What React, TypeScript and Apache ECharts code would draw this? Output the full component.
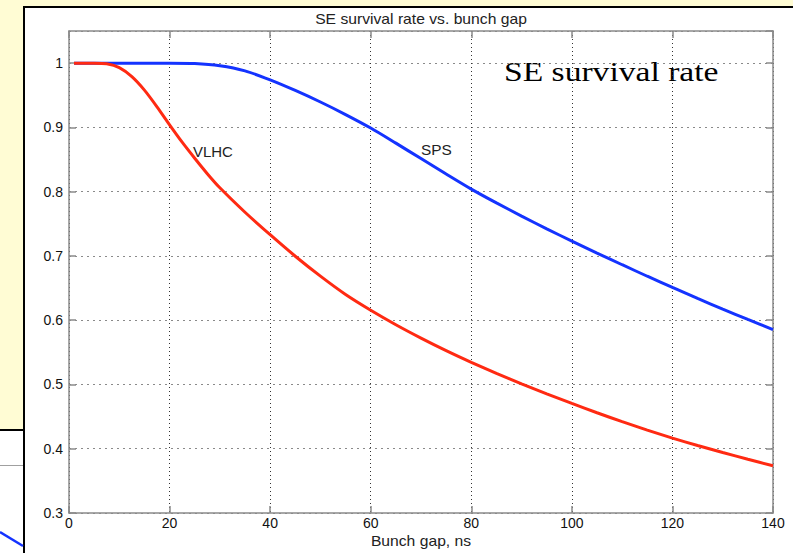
import React, { useEffect, useRef } from "react";
import * as echarts from "echarts";

// Tick values
const xTicks = [0, 20, 40, 60, 80, 100, 120, 140];
const yTicks = [0.3, 0.4, 0.5, 0.6, 0.7, 0.8, 0.9, 1];

// SPS (blue) curve
const spsX = [1, 5, 10, 15, 20, 25, 30, 35, 40, 45, 50, 55, 60, 65, 70, 75, 80, 85, 90, 95, 100, 105, 110, 115, 120, 125, 130, 135, 140];
const spsY = [1, 1, 1, 1, 1, 0.9995, 0.996, 0.988, 0.974, 0.9575, 0.9395, 0.92, 0.899, 0.8755, 0.8515, 0.8275, 0.804, 0.7825, 0.762, 0.7422, 0.723, 0.7044, 0.6863, 0.6684, 0.6509, 0.6339, 0.6173, 0.6012, 0.5855];

// VLHC (red) curve
const vlhcX = [1, 5, 7.5, 10, 12.5, 15, 17.5, 20, 22.5, 25, 27.5, 30, 35, 40, 45, 50, 55, 60, 65, 70, 75, 80, 85, 90, 95, 100, 105, 110, 115, 120, 125, 130, 135, 140];
const vlhcY = [1, 1, 0.999, 0.993, 0.979, 0.958, 0.932, 0.904, 0.877, 0.852, 0.828, 0.806, 0.768, 0.733, 0.6995, 0.6685, 0.64, 0.6155, 0.593, 0.5722, 0.5527, 0.5345, 0.5173, 0.501, 0.4855, 0.4705, 0.456, 0.4422, 0.429, 0.4165, 0.405, 0.3941, 0.3836, 0.3735];

const TITLE = "SE survival rate vs. bunch gap";
const X_NAME = "Bunch gap, ns";
const BIG_TEXT = "SE survival rate";

const SANS = "'Liberation Sans', Arial, Helvetica, sans-serif";
const SERIF = "'Liberation Serif', 'Times New Roman', serif";

export default function App() {
  const ref = useRef<HTMLDivElement>(null);
  useEffect(() => {
    if (!ref.current) return;
    const chart = echarts.init(ref.current, undefined, { renderer: "svg" });
    const axisGray = "#8a8a8a";
    const option: any = {
      animation: false,
      backgroundColor: "transparent",
      grid: { left: 69, right: 20, top: 31, bottom: 40, show: false },
      xAxis: [
        {
          type: "value",
          min: xTicks[0],
          max: xTicks[xTicks.length - 1],
          interval: 20,
          axisLine: { show: true, onZero: false, lineStyle: { color: axisGray, width: 1.5 } },
          axisTick: { show: true, inside: true, length: 7, lineStyle: { color: axisGray, width: 1.5 } },
          axisLabel: { color: "#111", fontSize: 14, fontFamily: SANS, margin: 3 },
          splitLine: { show: true, lineStyle: { color: "#333", width: 1, type: [1, 3] } },
        },
        {
          type: "value",
          position: "top",
          min: xTicks[0],
          max: xTicks[xTicks.length - 1],
          interval: 20,
          axisLine: { show: true, onZero: false, lineStyle: { color: axisGray, width: 1.5 } },
          axisTick: { show: true, inside: true, length: 7, lineStyle: { color: axisGray, width: 1.5 } },
          axisLabel: { show: false },
          splitLine: { show: false },
        },
      ],
      yAxis: [
        {
          type: "value",
          min: 0.3,
          max: 1.05,
          interval: 0.1,
          axisLine: { show: true, onZero: false, lineStyle: { color: axisGray, width: 1.5 } },
          axisTick: { show: true, inside: true, length: 7, lineStyle: { color: axisGray, width: 1.5 } },
          axisLabel: {
            color: "#111",
            fontSize: 14,
            fontFamily: SANS,
            margin: 6,
            showMaxLabel: false,
            formatter: (v: number) => {
              const r = Math.round(v * 10) / 10;
              return yTicks.includes(r) ? String(r) : "";
            },
          },
          splitLine: { show: true, lineStyle: { color: "#8a8a8a", width: 1, type: [2, 4] } },
        },
        {
          type: "value",
          position: "right",
          min: 0.3,
          max: 1.05,
          interval: 0.1,
          axisLine: { show: true, onZero: false, lineStyle: { color: axisGray, width: 1.5 } },
          axisTick: { show: true, inside: true, length: 7, lineStyle: { color: axisGray, width: 1.5 } },
          axisLabel: { show: false },
          splitLine: { show: false },
        },
      ],
      series: [
        {
          name: "SPS",
          type: "line",
          xAxisIndex: 0,
          yAxisIndex: 0,
          data: spsX.map((x, i) => [x, spsY[i]]),
          showSymbol: false,
          smooth: 0.25,
          lineStyle: { color: "#1433ff", width: 3 },
          z: 3,
        },
        {
          name: "VLHC",
          type: "line",
          xAxisIndex: 0,
          yAxisIndex: 0,
          data: vlhcX.map((x, i) => [x, vlhcY[i]]),
          showSymbol: false,
          smooth: 0.25,
          lineStyle: { color: "#ff2a12", width: 3 },
          z: 4,
        },
      ],
      graphic: [
        {
          type: "text",
          x: 421,
          y: 19,
          scaleX: 1.12,
          style: { text: TITLE, fill: "#222", font: `14px ${SANS}`, align: "center", verticalAlign: "middle" },
        },
        {
          type: "text",
          x: 421,
          y: 541,
          scaleX: 1.12,
          style: { text: X_NAME, fill: "#222", font: `14px ${SANS}`, align: "center", verticalAlign: "middle" },
        },
        {
          type: "text",
          x: 193,
          y: 152.5,
          scaleX: 1.07,
          style: { text: "VLHC", fill: "#222", font: `14px ${SANS}`, align: "left", verticalAlign: "middle" },
        },
        {
          type: "text",
          x: 421,
          y: 150.5,
          scaleX: 1.1,
          style: { text: "SPS", fill: "#222", font: `14px ${SANS}`, align: "left", verticalAlign: "middle" },
        },
        {
          type: "text",
          x: 504,
          y: 71,
          scaleX: 1.2,
          style: { text: BIG_TEXT, fill: "#000", font: `28px ${SERIF}`, align: "left", verticalAlign: "middle" },
        },
        {
          type: "line",
          shape: { x1: 0, y1: 465.5, x2: 23, y2: 465.5 },
          style: { stroke: "#a0a0a0", lineWidth: 1 },
        },
        {
          type: "line",
          shape: { x1: 0, y1: 532, x2: 23, y2: 546 },
          style: { stroke: "#1433ff", lineWidth: 2.5 },
        },
      ],
    };
    chart.setOption(option);
    return () => chart.dispose();
  }, []);

  return (
    <div style={{ position: "fixed", left: 0, top: 0, width: 793, height: 553, background: "#FFFCD4", overflow: "hidden" }}>
      <div
        style={{
          position: "absolute",
          left: 23,
          top: 6,
          width: 800,
          height: 600,
          background: "#fff",
          borderLeft: "2px solid #000",
          borderTop: "2px solid #000",
        }}
      />
      <div
        style={{
          position: "absolute",
          left: 0,
          top: 429,
          width: 23,
          height: 130,
          background: "#fff",
          borderTop: "2px solid #000",
        }}
      />
      <div ref={ref} style={{ position: "absolute", left: 0, top: 0, width: 793, height: 553 }} />
    </div>
  );
}
